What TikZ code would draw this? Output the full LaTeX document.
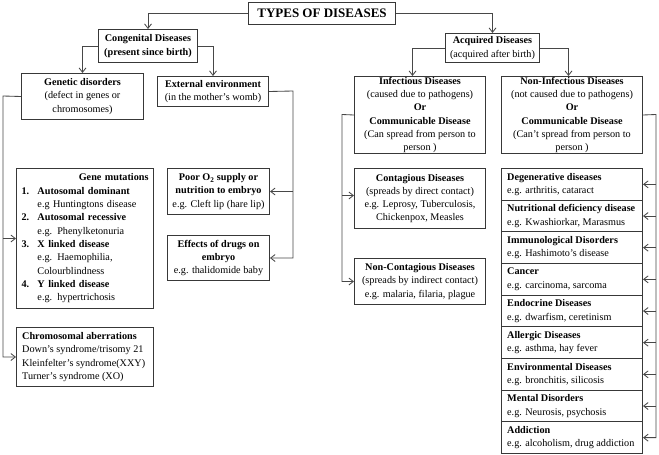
\documentclass[tikz,border=0pt]{standalone}
\usepackage{fontspec}
\setmainfont{Liberation Serif}
\usetikzlibrary{arrows.meta,calc}
\begin{document}
\begin{tikzpicture}[x=1pt,y=1pt,
  box/.style={draw=black!78, line width=1pt, inner sep=0pt, align=center, anchor=north west,
    font=\fontsize{10.2}{13.2}\selectfont},
  ltext/.style={inner sep=0pt, align=left, anchor=west, font=\fontsize{10.2}{13.3}\selectfont},
  conn/.style={draw=black!72, line width=0.85pt, -{Straight Barb[length=4.5pt,width=7pt]}}]
\useasboundingbox (0,0) rectangle (659,-455);

% top level
\node[box, minimum width=147, minimum height=22, font=\fontsize{13}{15}\selectfont\bfseries] (title) at (248,-2) {TYPES OF DISEASES};
\node[box, minimum width=99, minimum height=33] (cong) at (98,-29) {\textbf{Congenital Diseases}\\\textbf{(present since birth)}};
\node[box, minimum width=94, minimum height=29] (acq) at (445,-33) {\textbf{Acquired Diseases}\\(acquired after birth)};

% congenital branch
\node[box, minimum width=122, minimum height=46] (genetic) at (21,-73) {\textbf{Genetic disorders}\\(defect in genes or\\chromosomes)};
\node[box, minimum width=111, minimum height=30] (external) at (157,-76) {\textbf{External environment}\\(in the mother’s womb)};

\node[box, minimum width=137, minimum height=140, text width=127, align=left, font=\fontsize{10.2}{13.33}\selectfont] (genemut) at (16,-168) {%
\hspace*{\fill}\textbf{Gene mutations}\hspace*{\fill}\\
\makebox[16pt][l]{\textbf{1.}}\textbf{Autosomal dominant}\\
\hspace*{16pt}e.g Huntingtons disease\\
\makebox[16pt][l]{\textbf{2.}}\textbf{Autosomal recessive}\\
\hspace*{16pt}e.g. Phenylketonuria\\
\makebox[16pt][l]{\textbf{3.}}\textbf{X linked disease}\\
\hspace*{16pt}e.g. Haemophilia,\\
\hspace*{16pt}Colourblindness\\
\makebox[16pt][l]{\textbf{4.}}\textbf{Y linked disease}\\
\hspace*{16pt}e.g. hypertrichosis};

\node[box, minimum width=137, minimum height=59] (chrom) at (16,-327) {};
\node[ltext] (chromtxt) at ([xshift=6pt]chrom.west) {\textbf{Chromosomal aberrations}\\Down’s syndrome/trisomy 21\\Kleinfelter’s syndrome(XXY)\\Turner’s syndrome (XO)};

\node[box, minimum width=102, minimum height=46] (poor) at (167,-168) {\textbf{Poor O\textsubscript{2} supply or}\\\textbf{nutrition to embryo}\\e.g. Cleft lip (hare lip)};
\node[box, minimum width=102, minimum height=45] (effects) at (167,-235) {\textbf{Effects of drugs on}\\\textbf{embryo}\\e.g. thalidomide baby};

% acquired branch
\node[box, minimum width=131, minimum height=77] (inf) at (354,-76) {\textbf{Infectious Diseases}\\(caused due to pathogens)\\\textbf{Or}\\\textbf{Communicable Disease}\\(Can spread from person to\\person )};
\node[box, minimum width=141, minimum height=77] (noninf) at (501,-76) {\textbf{Non-Infectious Diseases}\\(not caused due to pathogens)\\\textbf{Or}\\\textbf{Communicable Disease}\\(Can’t spread from person to\\person )};

\node[box, minimum width=131, minimum height=60] (cont) at (354,-168) {\textbf{Contagious Diseases}\\(spreads by direct contact)\\e.g. Leprosy, Tuberculosis,\\Chickenpox, Measles};
\node[box, minimum width=131, minimum height=46] (noncont) at (354,-258) {\textbf{Non-Contagious Diseases}\\(spreads by indirect contact)\\e.g. malaria, filaria, plague};

% stack of non-infectious diseases
\node[box, minimum width=141, minimum height=31.67] (s1) at (501,-168) {};
\node[box, minimum width=141, minimum height=31.67] (s2) at (501,-199.67) {};
\node[box, minimum width=141, minimum height=31.67] (s3) at (501,-231.33) {};
\node[box, minimum width=141, minimum height=31.67] (s4) at (501,-263) {};
\node[box, minimum width=141, minimum height=31.67] (s5) at (501,-294.67) {};
\node[box, minimum width=141, minimum height=31.67] (s6) at (501,-326.33) {};
\node[box, minimum width=141, minimum height=31.67] (s7) at (501,-358) {};
\node[box, minimum width=141, minimum height=31.67] (s8) at (501,-389.67) {};
\node[box, minimum width=141, minimum height=31.67] (s9) at (501,-421.33) {};
\node[ltext] (t1) at ([xshift=6pt]s1.west) {\textbf{Degenerative diseases}\\e.g. arthritis, cataract};
\node[ltext] (t2) at ([xshift=6pt]s2.west) {\textbf{Nutritional deficiency disease}\\e.g. Kwashiorkar, Marasmus};
\node[ltext] (t3) at ([xshift=6pt]s3.west) {\textbf{Immunological Disorders}\\e.g. Hashimoto’s disease};
\node[ltext] (t4) at ([xshift=6pt]s4.west) {\textbf{Cancer}\\e.g. carcinoma, sarcoma};
\node[ltext] (t5) at ([xshift=6pt]s5.west) {\textbf{Endocrine Diseases}\\e.g. dwarfism, ceretinism};
\node[ltext] (t6) at ([xshift=6pt]s6.west) {\textbf{Allergic Diseases}\\e.g. asthma, hay fever};
\node[ltext] (t7) at ([xshift=6pt]s7.west) {\textbf{Environmental Diseases}\\e.g. bronchitis, silicosis};
\node[ltext] (t8) at ([xshift=6pt]s8.west) {\textbf{Mental Disorders}\\e.g. Neurosis, psychosis};
\node[ltext] (t9) at ([xshift=6pt]s9.west) {\textbf{Addiction}\\e.g. alcoholism, drug addiction};

% connectors
\draw[conn] (title.west) -| (cong.north);
\draw[conn] (title.east) -| (acq.north);
\draw[conn] (cong.west) -| (genetic.north);
\draw[conn] (cong.east) -| (external.north);
\draw[conn] (acq.west) -| ([xshift=-7.5pt]inf.north);
\draw[conn] (acq.east) -| ([xshift=-3.5pt]noninf.north);

\coordinate (gbus) at (3,-96);
\draw[conn] (genetic.west) -- (gbus) |- (chrom.west);
\draw[conn] (gbus |- genemut.west) -- (genemut.west);

\coordinate (ebus) at (293,-91);
\draw[conn] (external.east) -- (ebus) |- (effects.east);
\draw[conn] (ebus |- poor.east) -- (poor.east);

\coordinate (ibus) at (342,-114.5);
\coordinate (cw) at ([yshift=3pt]cont.west);
\draw[conn] (inf.west) -- (ibus) |- (noncont.west);
\draw[conn] (ibus |- cw) -- (cw);

\coordinate (nbus) at (656,-114.5);
\draw[conn] (noninf.east) -- (nbus) |- (s9.east);
\foreach \s in {s1,s2,s3,s4,s5,s6,s7,s8}
  \draw[conn] (nbus |- \s.east) -- (\s.east);
\end{tikzpicture}
\end{document}
